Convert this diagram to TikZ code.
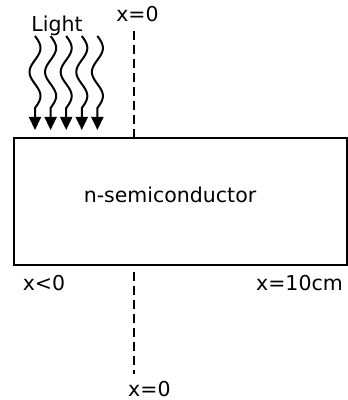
\documentclass[tikz,border=0pt]{standalone}
\usepackage{fontspec}
\setmainfont{DejaVu Sans}
\usetikzlibrary{arrows.meta, positioning, calc}
\tikzset{
  % plain text labels, DejaVu at the size of the drawing
  lbl/.style={font=\fontsize{20.5}{24}\selectfont, inner sep=0pt, anchor=base},
  % the semiconductor slab
  semibox/.style={rectangle, draw=black, line width=2pt, fill=white,
    minimum width=333pt, minimum height=127pt, inner sep=0pt},
  % x=0 reference line
  dashline/.style={line width=1.8pt, dash pattern=on 9pt off 5pt},
  % incoming light rays
  lightray/.style={line width=2pt, -{Triangle[length=13pt, width=12pt]}}
}
\begin{document}
\begin{tikzpicture}[x=1pt, y=1pt]
  \useasboundingbox (0,0) rectangle (348,400);

  %% ── Slab ───────────────────────────────────────────────────────────────
  \node[semibox] (semi) at (180,198.5) {};
  \node[lbl, anchor=base] (semitxt) at ([xshift=-10pt, yshift=-1.5pt]semi.center) {n-semiconductor};

  %% ── Labels ─────────────────────────────────────────────────────────────
  \node[lbl] (light) at (57,368) {Light};
  \node[lbl] (xtop)  at (137.5,378) {x=0};
  \node[lbl, anchor=base west] (xbot) at (128,3.5) {x=0};
  \node[lbl] (xneg)  at (44,110) {x<0};
  \node[lbl, anchor=base east] (xend) at (343,110) {x=10cm};

  %% ── x=0 axis ───────────────────────────────────────────────────────────
  \coordinate (axis) at (134,0);
  \draw[dashline] ([yshift=-9pt]xtop.base -| axis) -- (semi.north -| axis);
  \draw[dashline] ([yshift=-6.5pt]semi.south -| axis) -- ([yshift=7pt]xbot.north -| axis);

  %% ── Light rays ─────────────────────────────────────────────────────────
  \foreach \i in {0,...,4}{
    \draw[lightray] plot[domain=0:72, samples=60]
      ({35+15.6*\i+5.5*sin(7.5*\x)}, {364-\x}) -- ++(0,-22);
  }

\end{tikzpicture}
\end{document}
